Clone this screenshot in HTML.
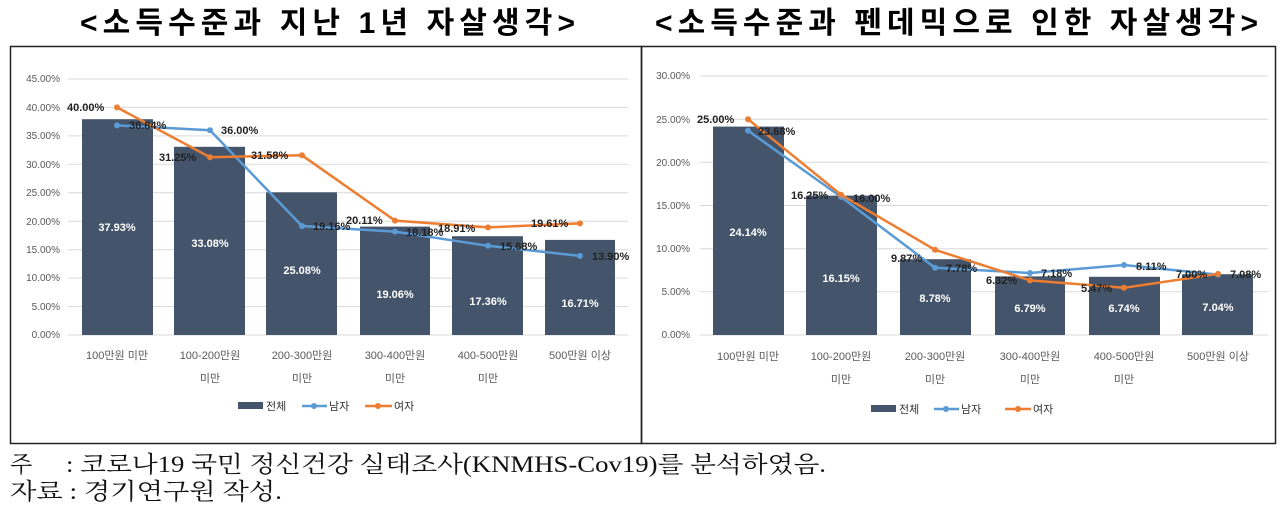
<!DOCTYPE html>
<html><head><meta charset="utf-8"><style>
html,body{margin:0;padding:0;background:#fff;width:1280px;height:506px;overflow:hidden}
svg text{font-family:"Liberation Sans","Noto Sans CJK KR",sans-serif}
.t{font-size:30px;font-weight:bold}
.ax{font-size:10px;fill:#595959}
.cx{font-size:11px;fill:#595959}
.dl{font-size:11px;font-weight:bold;fill:#222}
.wl{font-size:11px;font-weight:bold;fill:#fff}
.fn{font-size:23px;fill:#111}
</style></head><body>
<svg width="1280" height="506" viewBox="0 0 1280 506" xmlns="http://www.w3.org/2000/svg">
<text class="t" x="80" y="33" textLength="495" lengthAdjust="spacing" style="font-family:'Liberation Sans','Noto Sans CJK KR',sans-serif">&lt;소득수준과 지난 1년 자살생각&gt;</text>
<text class="t" x="655" y="33" textLength="603" lengthAdjust="spacing" style="font-family:'Liberation Sans','Noto Sans CJK KR',sans-serif">&lt;소득수준과 펜데믹으로 인한 자살생각&gt;</text>
<rect x="10.5" y="46.5" width="631" height="397" fill="none" stroke="#222" stroke-width="1.5"/>
<rect x="641.5" y="46.5" width="634" height="397" fill="none" stroke="#222" stroke-width="1.5"/>

<!-- LEFT CHART -->
<g stroke="#d9d9d9" stroke-width="1">
<line x1="68" x2="628" y1="79" y2="79"/><line x1="68" x2="628" y1="107.4" y2="107.4"/><line x1="68" x2="628" y1="135.9" y2="135.9"/><line x1="68" x2="628" y1="164.3" y2="164.3"/><line x1="68" x2="628" y1="192.8" y2="192.8"/><line x1="68" x2="628" y1="221.2" y2="221.2"/><line x1="68" x2="628" y1="249.7" y2="249.7"/><line x1="68" x2="628" y1="278.1" y2="278.1"/><line x1="68" x2="628" y1="306.6" y2="306.6"/><line x1="68" x2="628" y1="335" y2="335"/>
</g>
<g class="ax" text-anchor="end">
<text x="60" y="82">45.00%</text><text x="60" y="111">40.00%</text><text x="60" y="139">35.00%</text><text x="60" y="168">30.00%</text><text x="60" y="196">25.00%</text><text x="60" y="225">20.00%</text><text x="60" y="253">15.00%</text><text x="60" y="281">10.00%</text><text x="60" y="310">5.00%</text><text x="60" y="338">0.00%</text>
</g>
<g fill="#44546a">
<rect x="82" y="119.2" width="71" height="215.8"/><rect x="174" y="146.8" width="71" height="188.2"/><rect x="266" y="192.3" width="71" height="142.7"/><rect x="360" y="226.6" width="70" height="108.4"/><rect x="452" y="236.2" width="71" height="98.8"/><rect x="545" y="239.9" width="70" height="95.1"/>
</g>
<g class="wl" text-anchor="middle">
<text x="117" y="231">37.93%</text><text x="210" y="247">33.08%</text><text x="302" y="274">25.08%</text><text x="395" y="298">19.06%</text><text x="488" y="305">17.36%</text><text x="580" y="307">16.71%</text>
</g>
<polyline points="117,125.4 210,130.2 302,226 395,231.6 488,245.8 580,255.9" fill="none" stroke="#5b9bd5" stroke-width="2.5"/>
<g fill="#5b9bd5"><circle cx="117" cy="125.4" r="3"/><circle cx="210" cy="130.2" r="3"/><circle cx="302" cy="226" r="3"/><circle cx="395" cy="231.6" r="3"/><circle cx="488" cy="245.8" r="3"/><circle cx="580" cy="255.9" r="3"/></g>
<polyline points="117,107.4 210,157.2 302,155.3 395,220.6 488,227.4 580,223.4" fill="none" stroke="#ed7d31" stroke-width="2.5"/>
<g fill="#ed7d31"><circle cx="117" cy="107.4" r="3"/><circle cx="210" cy="157.2" r="3"/><circle cx="302" cy="155.3" r="3"/><circle cx="395" cy="220.6" r="3"/><circle cx="488" cy="227.4" r="3"/><circle cx="580" cy="223.4" r="3"/></g>
<g class="dl">
<text x="67" y="111">40.00%</text><text x="129" y="129">36.84%</text><text x="221" y="134">36.00%</text>
<text x="159" y="161">31.25%</text><text x="251" y="159">31.58%</text>
<text x="313" y="230">19.16%</text><text x="346" y="224">20.11%</text><text x="406" y="236">18.18%</text><text x="438" y="232">18.91%</text>
<text x="500" y="250">15.68%</text><text x="531" y="227">19.61%</text><text x="592" y="260">13.90%</text>
</g>
<g class="cx" text-anchor="middle">
<text x="117" y="359">100만원 미만</text><text x="210" y="359">100-200만원</text><text x="210" y="382">미만</text><text x="302" y="359">200-300만원</text><text x="302" y="382">미만</text><text x="395" y="359">300-400만원</text><text x="395" y="382">미만</text><text x="488" y="359">400-500만원</text><text x="488" y="382">미만</text><text x="580" y="359">500만원 이상</text>
</g>
<rect x="238" y="402" width="25" height="7" fill="#44546a"/><text class="cx" x="266" y="410" style="fill:#333">전체</text>
<line x1="302" x2="327" y1="406" y2="406" stroke="#5b9bd5" stroke-width="2.5"/><circle cx="314" cy="406" r="3" fill="#5b9bd5"/><text class="cx" x="329" y="410" style="fill:#333">남자</text>
<line x1="365" x2="392" y1="406" y2="406" stroke="#ed7d31" stroke-width="2.5"/><circle cx="378" cy="406" r="3" fill="#ed7d31"/><text class="cx" x="394" y="410" style="fill:#333">여자</text>

<!-- RIGHT CHART -->
<g stroke="#d9d9d9" stroke-width="1">
<line x1="700" x2="1268" y1="76" y2="76"/><line x1="700" x2="1268" y1="119.2" y2="119.2"/><line x1="700" x2="1268" y1="162.3" y2="162.3"/><line x1="700" x2="1268" y1="205.5" y2="205.5"/><line x1="700" x2="1268" y1="248.7" y2="248.7"/><line x1="700" x2="1268" y1="291.8" y2="291.8"/><line x1="700" x2="1268" y1="335" y2="335"/>
</g>
<g class="ax" text-anchor="end">
<text x="690" y="79">30.00%</text><text x="690" y="123">25.00%</text><text x="690" y="166">20.00%</text><text x="690" y="209">15.00%</text><text x="690" y="252">10.00%</text><text x="690" y="295">5.00%</text><text x="690" y="338">0.00%</text>
</g>
<g fill="#44546a">
<rect x="713" y="126.6" width="71" height="208.4"/><rect x="806" y="195.6" width="71" height="139.4"/><rect x="900" y="259.2" width="71" height="75.8"/><rect x="995" y="276.4" width="70" height="58.6"/><rect x="1089" y="276.8" width="71" height="58.2"/><rect x="1182" y="274.2" width="71" height="60.8"/>
</g>
<g class="wl" text-anchor="middle">
<text x="748" y="236">24.14%</text><text x="841" y="282">16.15%</text><text x="935" y="302">8.78%</text><text x="1030" y="312">6.79%</text><text x="1124" y="312">6.74%</text><text x="1218" y="311">7.04%</text>
</g>
<polyline points="748,130.6 841,196.9 935,267.8 1030,273 1124,265 1218,274.6" fill="none" stroke="#5b9bd5" stroke-width="2.5"/>
<g fill="#5b9bd5"><circle cx="748" cy="130.6" r="3"/><circle cx="841" cy="196.9" r="3"/><circle cx="935" cy="267.8" r="3"/><circle cx="1030" cy="273" r="3"/><circle cx="1124" cy="265" r="3"/><circle cx="1218" cy="274.6" r="3"/></g>
<polyline points="748,119.2 841,194.7 935,249.8 1030,280.4 1124,287.8 1218,273.9" fill="none" stroke="#ed7d31" stroke-width="2.5"/>
<g fill="#ed7d31"><circle cx="748" cy="119.2" r="3"/><circle cx="841" cy="194.7" r="3"/><circle cx="935" cy="249.8" r="3"/><circle cx="1030" cy="280.4" r="3"/><circle cx="1124" cy="287.8" r="3"/><circle cx="1218" cy="273.9" r="3"/></g>
<g class="dl">
<text x="697" y="123">25.00%</text><text x="758" y="135">23.68%</text>
<text x="791" y="199">16.25%</text><text x="853" y="202">16.00%</text>
<text x="891" y="262">9.87%</text><text x="946" y="272">7.78%</text>
<text x="986" y="284">6.32%</text><text x="1041" y="277">7.18%</text>
<text x="1081" y="292">5.47%</text><text x="1136" y="270">8.11%</text>
<text x="1176" y="278">7.00%</text><text x="1230" y="278">7.08%</text>
</g>
<g class="cx" text-anchor="middle">
<text x="748" y="360">100만원 미만</text><text x="841" y="360">100-200만원</text><text x="841" y="383">미만</text><text x="935" y="360">200-300만원</text><text x="935" y="383">미만</text><text x="1030" y="360">300-400만원</text><text x="1030" y="383">미만</text><text x="1124" y="360">400-500만원</text><text x="1124" y="383">미만</text><text x="1218" y="360">500만원 이상</text>
</g>
<rect x="871" y="405" width="25" height="7" fill="#44546a"/><text class="cx" x="899" y="413" style="fill:#333">전체</text>
<line x1="934" x2="959" y1="409" y2="409" stroke="#5b9bd5" stroke-width="2.5"/><circle cx="946" cy="409" r="3" fill="#5b9bd5"/><text class="cx" x="961" y="413" style="fill:#333">남자</text>
<line x1="1005" x2="1031" y1="409" y2="409" stroke="#ed7d31" stroke-width="2.5"/><circle cx="1018" cy="409" r="3" fill="#ed7d31"/><text class="cx" x="1033" y="413" style="fill:#333">여자</text>

<text class="fn" x="10" y="472" style="font-family:'Liberation Serif','Noto Serif CJK SC',serif">주</text>
<text class="fn" x="66" y="472" textLength="760" lengthAdjust="spacingAndGlyphs" style="font-family:'Liberation Serif','Noto Serif CJK SC',serif">: 코로나19 국민 정신건강 실태조사(KNMHS-Cov19)를 분석하였음.</text>
<text class="fn" x="10" y="499" textLength="272" lengthAdjust="spacingAndGlyphs" style="font-family:'Liberation Serif','Noto Serif CJK SC',serif">자료 : 경기연구원 작성.</text>
</svg>
</body></html>
